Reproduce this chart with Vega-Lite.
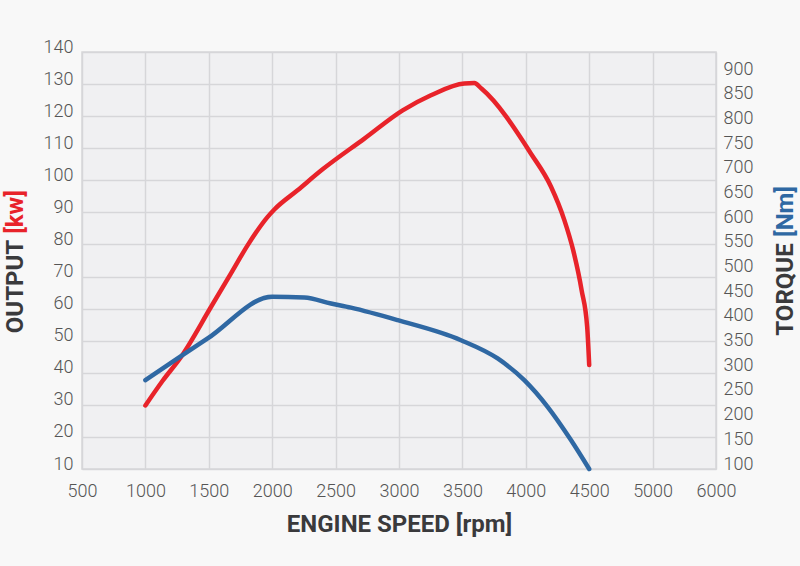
{
  "$schema": "https://vega.github.io/schema/vega-lite/v6.json",
  "width": 634,
  "height": 417,
  "autosize": {"type": "none"},
  "padding": {"left": 82, "top": 52, "right": 84, "bottom": 97},
  "background": "#f8f8f8",
  "config": {
    "view": {"fill": "#f0f0f2", "stroke": "#d6d6d9", "strokeWidth": 1.5},
    "axis": {
      "labelFont": "Roboto Light, Roboto",
      "labelFontWeight": 300,
      "labelFontSize": 18,
      "labelColor": "#555555",
      "titleFont": "Roboto",
      "titleFontWeight": "bold",
      "titleFontSize": 24,
      "titleColor": "#3a3a3c",
      "ticks": false,
      "domain": false,
      "gridColor": "#d6d6d9",
      "gridWidth": 1.5,
      "labelOverlap": false,
      "format": "d"
    }
  },
  "datasets": {
    "power": [
      {"rpm": 1000, "kw": 29.8},
      {"rpm": 1136, "kw": 37.5},
      {"rpm": 1282, "kw": 45},
      {"rpm": 1517, "kw": 60.5},
      {"rpm": 1675, "kw": 71},
      {"rpm": 1807, "kw": 79.8},
      {"rpm": 1964, "kw": 88.6},
      {"rpm": 2017, "kw": 90.9},
      {"rpm": 2200, "kw": 96.9},
      {"rpm": 2400, "kw": 103.5},
      {"rpm": 2727, "kw": 113},
      {"rpm": 3029, "kw": 121.8},
      {"rpm": 3252, "kw": 126.5},
      {"rpm": 3515, "kw": 130.2},
      {"rpm": 3594, "kw": 130.3},
      {"rpm": 3650, "kw": 128.6},
      {"rpm": 4041, "kw": 108.3},
      {"rpm": 4199, "kw": 98},
      {"rpm": 4304, "kw": 87.6},
      {"rpm": 4375, "kw": 78},
      {"rpm": 4440, "kw": 65.8},
      {"rpm": 4484, "kw": 54.3},
      {"rpm": 4500, "kw": 42.4}
    ],
    "torque": [
      {"rpm": 1000, "nm": 280},
      {"rpm": 1254, "nm": 324},
      {"rpm": 1491, "nm": 364.5},
      {"rpm": 2000, "nm": 449},
      {"rpm": 2253, "nm": 447.5},
      {"rpm": 2464, "nm": 435.4},
      {"rpm": 2621, "nm": 427},
      {"rpm": 2990, "nm": 401.6},
      {"rpm": 3489, "nm": 361},
      {"rpm": 3778, "nm": 324},
      {"rpm": 3988, "nm": 280},
      {"rpm": 4172, "nm": 226},
      {"rpm": 4356, "nm": 158.7},
      {"rpm": 4500, "nm": 100}
    ]
  },
  "encoding": {
    "x": {
      "field": "rpm",
      "type": "quantitative",
      "scale": {"domain": [500, 5500], "nice": false, "zero": false},
      "axis": {
        "values": [500, 1000, 1500, 2000, 2500, 3000, 3500, 4000, 4500, 5000, 5500],
        "labelExpr": "datum.value == 5500 ? '6000' : datum.label",
        "grid": true,
        "labelFlush": false,
        "labelPadding": 13,
        "title": "ENGINE SPEED [rpm]",
        "titleX": 317,
        "titleY": 43,
        "titleAlign": "center",
        "titleBaseline": "top"
      }
    }
  },
  "layer": [
    {
      "data": {"name": "power"},
      "mark": {"type": "line", "color": "#e8232a", "strokeWidth": 4.5, "strokeCap": "round", "strokeJoin": "round", "interpolate": "monotone"},
      "encoding": {
        "y": {
          "field": "kw",
          "type": "quantitative",
          "scale": {"domain": [10, 140], "nice": false, "zero": false},
          "axis": {
            "orient": "left",
            "values": [10, 20, 30, 40, 50, 60, 70, 80, 90, 100, 110, 120, 130, 140],
            "grid": true,
            "labelBaseline": "alphabetic",
            "labelPadding": 9,
            "title": "OUTPUT",
            "titleAngle": -90,
            "titleX": -60,
            "titleY": 234,
            "titleAlign": "center",
            "titleBaseline": "alphabetic"
          }
        }
      }
    },
    {
      "data": {"name": "torque"},
      "mark": {"type": "line", "color": "#2f68a3", "strokeWidth": 4.5, "strokeCap": "round", "strokeJoin": "round", "interpolate": "monotone"},
      "encoding": {
        "y": {
          "field": "nm",
          "type": "quantitative",
          "scale": {"domain": [100, 945], "nice": false, "zero": false},
          "axis": {
            "orient": "right",
            "values": [100, 150, 200, 250, 300, 350, 400, 450, 500, 550, 600, 650, 700, 750, 800, 850, 900],
            "grid": false,
            "labelBaseline": "alphabetic",
            "labelPadding": 7,
            "title": "TORQUE",
            "titleAngle": -90,
            "titleX": 76,
            "titleY": 237,
            "titleAlign": "center",
            "titleBaseline": "alphabetic"
          }
        }
      }
    },
    {
      "data": {"name": "power"},
      "mark": {"type": "line", "opacity": 0},
      "encoding": {
        "y": {
          "field": "kw",
          "type": "quantitative",
          "scale": {"domain": [10, 140], "nice": false, "zero": false},
          "axis": {
            "orient": "left",
            "labels": false,
            "grid": false,
            "title": "[kw]",
            "titleColor": "#e8232a",
            "titleAngle": -90,
            "titleX": -60,
            "titleY": 159.5,
            "titleAlign": "center",
            "titleBaseline": "alphabetic"
          }
        }
      }
    },
    {
      "data": {"name": "torque"},
      "mark": {"type": "line", "opacity": 0},
      "encoding": {
        "y": {
          "field": "nm",
          "type": "quantitative",
          "scale": {"domain": [100, 945], "nice": false, "zero": false},
          "axis": {
            "orient": "right",
            "labels": false,
            "grid": false,
            "title": "[Nm]",
            "titleColor": "#2f68a3",
            "titleAngle": -90,
            "titleX": 76,
            "titleY": 159,
            "titleAlign": "center",
            "titleBaseline": "alphabetic"
          }
        }
      }
    }
  ],
  "resolve": {"scale": {"y": "independent"}, "axis": {"y": "independent"}}
}
